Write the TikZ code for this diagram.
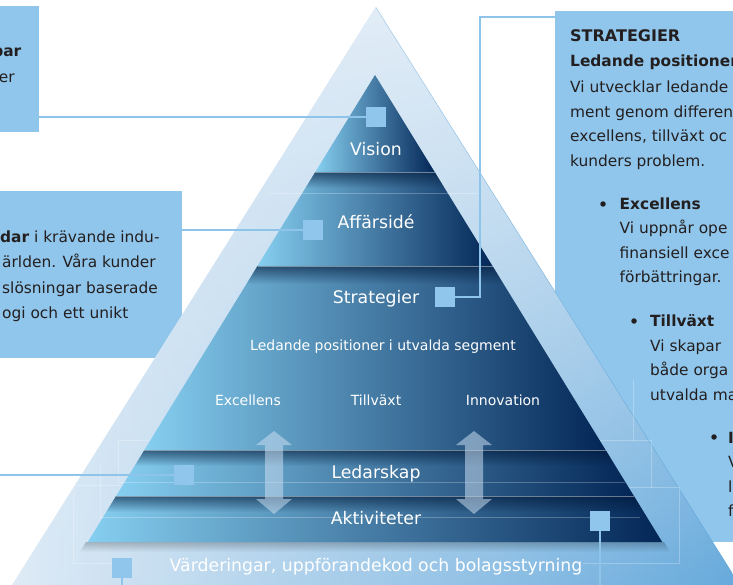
\documentclass[tikz,border=0pt]{standalone}
\usepackage{fontspec}
\setmainfont{DejaVu Sans}
\usetikzlibrary{fadings}
\definecolor{boxblue}{HTML}{90C6EB}
\definecolor{linkblue}{HTML}{8EC4E9}
\definecolor{txt}{HTML}{231F20}
\definecolor{pale}{HTML}{E2EDF7}
\definecolor{deep}{HTML}{5AA3D9}
\definecolor{lcyan}{HTML}{86CFF1}
\definecolor{lmid}{HTML}{2C6399}
\definecolor{lnavy}{HTML}{032656}
\definecolor{shadowc}{HTML}{001838}
\definecolor{arrowc}{HTML}{C8DCF0}
\tikzfading[name=fadedown, top color=transparent!0, bottom color=transparent!100]
\newcommand\dblarrowshape[1]{%
  \path[dblarrow, shift={(#1,0)}] (0,431) -- (18,445) -- (9,445) -- (9,499) -- (18,499) -- (0,514)
    -- (-18,499) -- (-9,499) -- (-9,445) -- (-18,445) -- cycle;}
\newcommand\layershadow[3]{% polygon, top y, shadow end y
  \begin{scope}
    \clip #1;
    \fill[shadowc, fill opacity=0.6, path fading=fadedown] (80,#2) rectangle (670,#3);
  \end{scope}}
\begin{document}
\begin{tikzpicture}[x=1pt,y=-1pt,
  infobox/.style={fill=boxblue, draw=none, inner sep=0, outer sep=0, rectangle, anchor=north west},
  marker/.style={fill=boxblue, draw=none, minimum size=20pt, inner sep=0, outer sep=0, rectangle},
  link/.style={draw=linkblue, line width=2pt},
  thinlink/.style={draw=linkblue, line width=1.3pt},
  layer/.style={left color=lcyan, middle color=lmid, right color=lnavy},
  lbl/.style={text=white, font=\fontsize{17.3}{20}\selectfont, inner sep=0, anchor=base},
  sublbl/.style={text=white, font=\fontsize{14}{17}\selectfont, inner sep=0, anchor=base},
  body/.style={text=txt, font=\fontsize{15.4}{18}\selectfont, inner sep=0, anchor=base west},
  bodyb/.style={text=txt, font=\fontsize{15.4}{18}\selectfont\bfseries, inner sep=0, anchor=base west},
  bul/.style={circle, fill=txt, draw=none, minimum size=5.5pt, inner sep=0},
  gridline/.style={draw=white, draw opacity=0.25, line width=0.7pt},
  sepline/.style={draw=white, draw opacity=0.4, line width=0.8pt},
  dblarrow/.style={fill=arrowc, fill opacity=0.55, draw=none},
]
\useasboundingbox (0,0) rectangle (733,585);
\clip (0,0) rectangle (733,585);

% ---------- info boxes ----------
\node[infobox, minimum width=39pt, minimum height=126pt] (boxV) at (0,6) {};
\node[infobox, minimum width=182pt, minimum height=167pt] (boxA) at (0,191) {};
\node[infobox, minimum width=200pt, minimum height=531pt] (boxS) at (555,11) {};

% ---------- outer triangle ----------
\shade[left color=pale, right color=deep] (376,7) -- (762,620) -- (-10,620) -- cycle;
\fill[pale, path fading=fadedown] (376,7) -- (762,620) -- (-10,620) -- cycle;

% faint grid lines in background
\draw[gridline] (73,485) -- (73,563) -- (112,563);
\draw[gridline] (73,485) -- (120,485);
\draw[gridline] (100,463) -- (100,517) -- (130,517);
\draw[gridline] (118,440) -- (118,482);
\draw[gridline] (118,440) -- (160,440);
\draw[gridline] (633,380) -- (633,440) -- (600,440);
\draw[gridline] (633,440) -- (651,440) -- (651,487) -- (620,487);
\draw[gridline] (651,487) -- (679,487) -- (679,563) -- (583,563);

% shadow below pyramid
\fill[black, fill opacity=0.22, path fading=fadedown] (86,542) -- (664,542) -- (670,552) -- (80,552) -- cycle;

% ---------- pyramid layers ----------
\def\layV{(375,75) -- (434.7,172) -- (315.3,172) -- cycle}
\def\layA{(315.3,172) -- (434.7,172) -- (492.5,266) -- (257.5,266) -- cycle}
\def\layS{(257.5,266) -- (492.5,266) -- (605.6,450) -- (144.4,450) -- cycle}
\def\layL{(144.4,450) -- (605.6,450) -- (633.9,496) -- (116.1,496) -- cycle}
\def\layK{(116.1,496) -- (633.9,496) -- (662.2,542) -- (87.8,542) -- cycle}
\shade[layer] \layV;
\shade[layer] \layA;
\shade[layer] \layS;
\shade[layer] \layL;
\shade[layer] \layK;
\layershadow{\layA}{172}{188}
\layershadow{\layS}{266}{284}
\layershadow{\layL}{450}{466}
\layershadow{\layK}{496}{512}
\draw[sepline] (315.3,172) -- (434.7,172);
\draw[sepline] (257.5,266) -- (492.5,266);
\draw[sepline] (144.4,450) -- (605.6,450);
\draw[sepline] (116.1,496) -- (633.9,496);
\draw[gridline] (268,193) -- (482,193);
\draw[gridline] (118,482) -- (625,482);
\draw[gridline] (100,517) -- (640,517);

% ---------- double arrows ----------
\dblarrowshape{274}
\dblarrowshape{474}

% ---------- pyramid labels ----------
\node[lbl] (tV) at (376,156) {Vision};
\node[lbl] (tA) at (376,229) {Affärsidé};
\node[lbl] (tS) at (376,303) {Strategier};
\node[sublbl] (tLP) at (383,350) {Ledande positioner i utvalda segment};
\node[sublbl] (tE) at (248,405) {Excellens};
\node[sublbl] (tT) at (376,405) {Tillväxt};
\node[sublbl] (tI) at (503,405) {Innovation};
\node[lbl] (tL) at (376,478) {Ledarskap};
\node[lbl] (tK) at (376,524) {Aktiviteter};
\node[lbl] (tW) at (376,571) {Värderingar, uppförandekod och bolagsstyrning};

% ---------- markers ----------
\node[marker] (sqV) at (376,117) {};
\node[marker] (sqA) at (313,230) {};
\node[marker] (sqS) at (445,297) {};
\node[marker] (sqL) at (184,475) {};
\node[marker] (sqB1) at (122,568) {};
\node[marker] (sqB2) at (600,521) {};

% ---------- connectors ----------
\coordinate (cS) at (480,17);
\coordinate (cL) at (0,475);
\coordinate (cB1) at (122,590);
\coordinate (cB2) at (600,590);
\draw[link] (boxV.east |- sqV) -- (sqV.west);
\draw[link] (boxA.east |- sqA) -- (sqA.west);
\draw[link] (sqS.east) -| (cS) -- (cS -| boxS.west);
\draw[link] (cL) -- (sqL.west);
\draw[thinlink] (sqB1.south) -- (cB1);
\draw[thinlink] (sqB2.south) -- (cB2);

% ---------- box texts ----------
\node[bodyb, anchor=base east] (v1) at (21.5,56.7) {par};
\node[body, anchor=base east] (v2) at (15,82.7) {er};

\node[body] (a1) at (0,243) {\textbf{dar} i krävande indu-};
\node[body] (a2) at (2,268) {ärlden. Våra kunder};
\node[body] (a3) at (2,293) {slösningar baserade};
\node[body] (a4) at (2,318) {ogi och ett unikt};

\node[bodyb, font=\fontsize{16}{18}\selectfont\bfseries] (s0) at (570,41.7) {STRATEGIER};
\node[bodyb] (s1) at (570,67) {Ledande positioner};
\node[body] (s2) at (570,93) {Vi utvecklar ledande};
\node[body] (s3) at (570,117.5) {ment genom differen};
\node[body] (s4) at (570,142) {excellens, tillväxt oc};
\node[body] (s5) at (570,166.5) {kunders problem.};
\node[bul] (b1) at (603,204) {};
\node[bodyb] (e0) at (619.5,209.5) {Excellens};
\node[body] (e1) at (619.5,234) {Vi uppnår ope};
\node[body] (e2) at (619.5,258.5) {finansiell exce};
\node[body] (e3) at (619.5,283) {förbättringar.};
\node[bul] (b2) at (634,321) {};
\node[bodyb] (g0) at (650,326.7) {Tillväxt};
\node[body] (g1) at (650,351) {Vi skapar};
\node[body] (g2) at (650,375.5) {både orga};
\node[body] (g3) at (650,400) {utvalda ma};
\node[bul] (b3) at (714,437) {};
\node[bodyb] (i0) at (728,443) {Innovation};
\node[body] (i1) at (728,467.5) {Vi};
\node[body] (i2) at (728,492) {l};
\node[body] (i3) at (728,516.5) {f};
\end{tikzpicture}
\end{document}
